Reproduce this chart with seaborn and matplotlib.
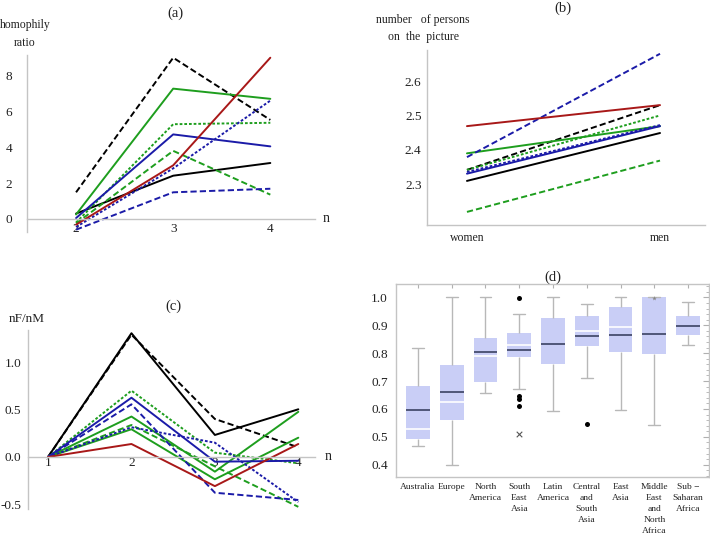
import numpy as np
import pandas as pd
import matplotlib
matplotlib.use("Agg")
import matplotlib.pyplot as plt
import matplotlib.transforms as mtransforms
from matplotlib.ticker import MultipleLocator, FixedLocator
import seaborn as sns

# ---------------- data ----------------
series_order = ["black solid", "black dashed", "green solid", "green solid 2",
                "green dotted", "green dashed", "blue solid", "blue dashed",
                "blue dotted", "red solid"]

# (a) homophily ratio vs n
a_n = [2, 3, 4]
a_black_solid = [0.30, 2.42, 3.13]
a_black_dashed = [1.49, 9.02, 5.54]
a_green_solid = [0.25, 7.29, 6.72]
a_green_dotted = [-0.20, 5.30, 5.38]
a_green_dashed = [-0.25, 3.81, 1.36]
a_blue_solid = [0.05, 4.73, 4.06]
a_blue_dashed = [-0.60, 1.49, 1.69]
a_blue_dotted = [-0.45, 2.83, 6.62]
a_red_solid = [-0.32, 3.00, 9.02]

# (b) number of persons on the picture
b_group = ["women", "men"]
b_black_solid = [2.310, 2.449]
b_black_dashed = [2.342, 2.530]
b_green_solid = [2.390, 2.469]
b_green_dotted = [2.342, 2.500]
b_green_dashed = [2.220, 2.369]
b_blue_solid = [2.331, 2.469]
b_blue_dashed = [2.379, 2.679]
b_blue_dotted = [2.336, 2.472]
b_red_solid = [2.469, 2.530]

# (c) nF/nM vs n
c_n = [1, 2, 3, 4]
c_black_solid = [0.0, 1.316, 0.234, 0.507]
c_black_dashed = [0.0, 1.300, 0.404, 0.103]
c_green_solid = [0.0, 0.430, -0.156, 0.480]
c_green_solid_2 = [0.0, 0.295, -0.237, 0.205]
c_green_dotted = [0.0, 0.705, 0.046, -0.067]
c_green_dashed = [0.0, 0.340, -0.100, -0.530]
c_blue_solid = [0.0, 0.630, -0.050, -0.040]
c_blue_dashed = [0.0, 0.560, -0.380, -0.457]
c_blue_dotted = [0.0, 0.316, 0.152, -0.480]
c_red_solid = [0.0, 0.138, -0.310, 0.138]

# (d) box plot per region
d_regions = ["Australia", "Europe", "North\nAmerica", "South\nEast\nAsia",
             "Latin\nAmerica", "Central\nand\nSouth\nAsia", "East\nAsia",
             "Middle\nEast\nand\nNorth\nAfrica", "Sub \u2212\nSaharan\nAfrica"]
d_whisker_low = [0.468, 0.399, 0.656, 0.671, 0.594, 0.710, 0.597, 0.542, 0.828]
d_q1 = [0.492, 0.562, 0.698, 0.785, 0.760, 0.826, 0.803, 0.797, 0.864]
d_median = [0.597, 0.661, 0.803, 0.813, 0.832, 0.860, 0.865, 0.869, 0.896]
d_q3 = [0.683, 0.758, 0.853, 0.871, 0.925, 0.933, 0.964, 1.000, 0.933]
d_whisker_high = [0.820, 1.000, 1.000, 0.939, 1.000, 0.977, 1.000, 1.000, 0.982]
d_white_line = [0.528, 0.624, 0.790, 0.828, np.nan, 0.881, 0.895, np.nan, np.nan]
d_outlier_region = ["South\nEast\nAsia"] * 4 + ["Central\nand\nSouth\nAsia"]
d_outlier_value = [0.997, 0.648, 0.635, 0.611, 0.545]
d_cross_region = ["South\nEast\nAsia"]
d_cross_value = [0.511]
d_star_region = ["Middle\nEast\nand\nNorth\nAfrica"]
d_star_value = [0.998]

# ---------------- styles ----------------
GREEN = "#1e9e1e"
BLUE = "#1b1ba8"
RED = "#a81818"
palette = {"black solid": "black", "black dashed": "black",
           "green solid": GREEN, "green solid 2": GREEN, "green dotted": GREEN,
           "green dashed": GREEN, "blue solid": BLUE, "blue dashed": BLUE,
           "blue dotted": BLUE, "red solid": RED}
DASH = (3.2, 1.6)
DOT = (1.4, 1.0)
dashes = {"black solid": "", "black dashed": DASH, "green solid": "",
          "green solid 2": "", "green dotted": DOT, "green dashed": DASH,
          "blue solid": "", "blue dashed": DASH, "blue dotted": DOT,
          "red solid": ""}


def long_df(x, table):
    rows = []
    for name, vals in table.items():
        for xi, v in zip(x, vals):
            rows.append({"x": xi, "value": v, "series": name})
    return pd.DataFrame(rows)


dfa = long_df(a_n, {"black solid": a_black_solid, "black dashed": a_black_dashed,
                    "green solid": a_green_solid, "green dotted": a_green_dotted,
                    "green dashed": a_green_dashed, "blue solid": a_blue_solid,
                    "blue dashed": a_blue_dashed, "blue dotted": a_blue_dotted,
                    "red solid": a_red_solid})
dfb = long_df(b_group, {"black solid": b_black_solid, "black dashed": b_black_dashed,
                        "green solid": b_green_solid, "green dotted": b_green_dotted,
                        "green dashed": b_green_dashed, "blue solid": b_blue_solid,
                        "blue dashed": b_blue_dashed, "blue dotted": b_blue_dotted,
                        "red solid": b_red_solid})
dfc = long_df(c_n, {"black solid": c_black_solid, "black dashed": c_black_dashed,
                    "green solid": c_green_solid, "green solid 2": c_green_solid_2,
                    "green dotted": c_green_dotted, "green dashed": c_green_dashed,
                    "blue solid": c_blue_solid, "blue dashed": c_blue_dashed,
                    "blue dotted": c_blue_dotted, "red solid": c_red_solid})

sns.set_style("white")
plt.rcParams["font.family"] = ["Liberation Serif", "DejaVu Serif"]
plt.rcParams["axes.unicode_minus"] = True

AX_COLOR = "#c4c4c4"
TICK_COLOR = "#b0b0b0"
TXT = "#222222"
W, H = 710.0, 538.0
TICK_FS = 9.5

fig = plt.figure(figsize=(7.1, 5.38), dpi=100)


def px_axes(left, top, right, bottom):
    return fig.add_axes([left / W, 1 - bottom / H, (right - left) / W, (bottom - top) / H])


def line_panel(ax, df, ypad):
    order = [s for s in series_order if s in set(df["series"])]
    sns.lineplot(data=df, x="x", y="value", hue="series", style="series",
                 hue_order=order, style_order=order, palette=palette,
                 dashes=dashes, legend=False, estimator=None, sort=False,
                 linewidth=1.4, ax=ax)
    ax.set_xlabel("")
    ax.set_ylabel("")
    for s in ["top", "right"]:
        ax.spines[s].set_visible(False)
    for s in ["left", "bottom"]:
        ax.spines[s].set_color(AX_COLOR)
        ax.spines[s].set_linewidth(1.0)
    ax.tick_params(axis="both", which="both", direction="in", color=TICK_COLOR,
                   labelsize=TICK_FS, labelcolor=TXT)
    ax.tick_params(axis="y", which="major", length=4, pad=ypad)
    ax.tick_params(axis="y", which="minor", length=2)
    ax.tick_params(axis="x", which="major", length=3, pad=3)
    ax.patch.set_alpha(0)


# ---- (a) ----
ax_a = px_axes(27.5, 54.5, 315, 232)
line_panel(ax_a, dfa, 11)
ax_a.set_xlim(1.5, 4.46)
ax_a.set_ylim(-0.73, 9.2)
ax_a.spines["bottom"].set_position(("data", 0))
ax_a.xaxis.set_major_locator(FixedLocator([2, 3, 4]))
ax_a.yaxis.set_major_locator(FixedLocator([0, 2, 4, 6, 8]))
ax_a.yaxis.set_minor_locator(MultipleLocator(0.5))
ax_a.text(1.04, 0, "n", transform=mtransforms.blended_transform_factory(ax_a.transAxes, ax_a.transData),
          ha="center", va="center", fontsize=10, color=TXT)
fig.text(175 / W, 1 - 13 / H, "(a)", ha="center", va="center", fontsize=10.5, color=TXT)
fig.text(25 / W, 1 - 25 / H, "homophily", ha="center", va="center", fontsize=8.5, color=TXT)
fig.text(25 / W, 1 - 43 / H, "ratio", ha="center", va="center", fontsize=8.5, color=TXT)

# ---- (b) ----
ax_b = px_axes(427, 50, 705, 225)
line_panel(ax_b, dfb, 4)
ax_b.set_xlim(-0.207, 1.233)
ax_b.set_ylim(2.182, 2.69)
ax_b.yaxis.set_major_locator(FixedLocator([2.3, 2.4, 2.5, 2.6]))
ax_b.yaxis.set_minor_locator(MultipleLocator(0.02))
ax_b.tick_params(axis="x", which="major", pad=5, labelsize=8.5)
fig.text(563 / W, 1 - 8 / H, "(b)", ha="center", va="center", fontsize=10.5, color=TXT)
fig.text(423 / W, 1 - 20 / H, "number   of persons", ha="center", va="center", fontsize=8.5, color=TXT)
fig.text(424 / W, 1 - 37 / H, "on  the  picture", ha="center", va="center", fontsize=8.5, color=TXT)

# ---- (c) ----
ax_c = px_axes(28, 330, 315, 509)
line_panel(ax_c, dfc, 5)
ax_c.set_xlim(0.76, 4.2)
ax_c.set_ylim(-0.553, 1.35)
ax_c.spines["bottom"].set_position(("data", 0))
ax_c.xaxis.set_major_locator(FixedLocator([1, 2, 3, 4]))
ax_c.yaxis.set_major_locator(FixedLocator([-0.5, 0.0, 0.5, 1.0]))
ax_c.yaxis.set_minor_locator(MultipleLocator(0.1))
ax_c.yaxis.set_major_formatter(matplotlib.ticker.FormatStrFormatter("%.1f"))
ax_c.tick_params(axis="x", which="major", pad=0)
ax_c.text(1.045, 0, "n", transform=mtransforms.blended_transform_factory(ax_c.transAxes, ax_c.transData),
          ha="center", va="center", fontsize=10, color=TXT)
fig.text(173 / W, 1 - 306 / H, "(c)", ha="center", va="center", fontsize=10.5, color=TXT)
fig.text(27 / W, 1 - 319 / H, "nF/nM", ha="center", va="center", fontsize=9.5, color=TXT)

# ---- (d) ----
ax_d = px_axes(396, 284, 709, 477)
box_rows = []
for r, lo, q1, me, q3, hi in zip(d_regions, d_whisker_low, d_q1, d_median, d_q3, d_whisker_high):
    for v in (lo, q1, me, q3, hi):
        box_rows.append({"region": r, "value": v})
dfd = pd.DataFrame(box_rows)
BOXC = "#c9cef6"
sns.boxplot(data=dfd, x="region", y="value", order=d_regions, whis=np.inf,
            width=0.7, saturation=1, color=BOXC, linewidth=1.0, showfliers=False,
            boxprops=dict(facecolor=BOXC, edgecolor=BOXC, linewidth=0),
            whiskerprops=dict(color="#b8b8b8", linewidth=1.0),
            capprops=dict(color="#b8b8b8", linewidth=1.0),
            medianprops=dict(color="#4f5678", linewidth=1.4),
            ax=ax_d)
dfw = pd.DataFrame({"region": d_regions, "value": d_white_line}).dropna()
dfw = pd.concat([dfw] * 5, ignore_index=True)
sns.boxplot(data=dfw, x="region", y="value", order=d_regions, whis=0,
            width=0.7, saturation=1, showfliers=False, showcaps=False,
            boxprops=dict(facecolor="none", edgecolor="none", linewidth=0),
            whiskerprops=dict(visible=False),
            medianprops=dict(color="white", linewidth=1.2),
            ax=ax_d)
sns.stripplot(data=pd.DataFrame({"region": d_outlier_region, "value": d_outlier_value}),
              x="region", y="value", order=d_regions, jitter=False, color="black",
              size=3.6, linewidth=0, ax=ax_d)
sns.stripplot(data=pd.DataFrame({"region": d_cross_region, "value": d_cross_value}),
              x="region", y="value", order=d_regions, jitter=False, color="#555555",
              marker="x", size=4, linewidth=0.8, ax=ax_d)
sns.stripplot(data=pd.DataFrame({"region": d_star_region, "value": d_star_value}),
              x="region", y="value", order=d_regions, jitter=False, color="#888888",
              marker="*", size=3.5, linewidth=0, ax=ax_d)
ax_d.set_xlim(-0.65, 8.62)
ax_d.set_ylim(0.356, 1.048)
ax_d.set_xlabel("")
ax_d.set_ylabel("")
for s in ax_d.spines.values():
    s.set_visible(True)
    s.set_color(AX_COLOR)
    s.set_linewidth(1.0)
ax_d.yaxis.set_major_locator(FixedLocator([0.4, 0.5, 0.6, 0.7, 0.8, 0.9, 1.0]))
ax_d.yaxis.set_minor_locator(MultipleLocator(0.02))
ax_d.yaxis.set_major_formatter(matplotlib.ticker.FormatStrFormatter("%.1f"))
ax_d.tick_params(axis="both", which="both", direction="in", color=TICK_COLOR,
                 top=True, right=True, labelcolor=TXT)
ax_d.tick_params(axis="y", which="major", length=4, labelsize=TICK_FS, pad=6)
ax_d.tick_params(axis="y", which="minor", length=2)
ax_d.tick_params(axis="x", which="major", length=3, labelsize=6.8, pad=4)
for lab in ax_d.get_xticklabels():
    lab.set_linespacing(1.5)
    lab.set_va("top")
fig.text(553 / W, 1 - 277 / H, "(d)", ha="center", va="center", fontsize=10.5, color=TXT)

fig.savefig("out.png", dpi=100)
